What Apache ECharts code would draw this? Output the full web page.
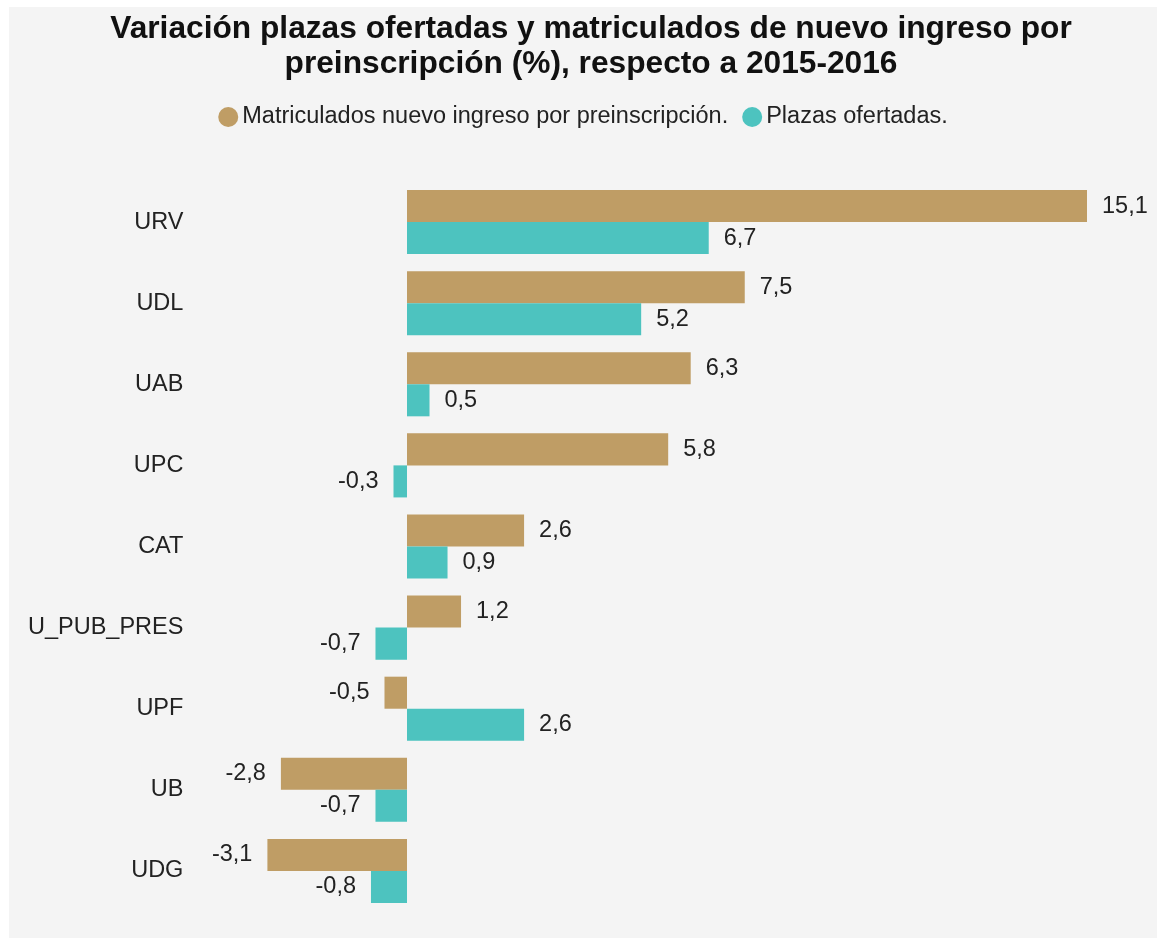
<!DOCTYPE html>
<html>
<head>
<meta charset="utf-8">
<script src="https://cdn.jsdelivr.net/npm/echarts@6/dist/echarts.min.js"></script>
<style>
html,body{margin:0;padding:0;background:#fff;}
#chart{position:absolute;left:9px;top:7px;width:1148px;height:931px;background:#f4f4f4;}
</style>
</head>
<body>
<div id="chart"></div>
<script>
const categories = ["URV","UDL","UAB","UPC","CAT","U_PUB_PRES","UPF","UB","UDG"];
const matriculados = [15.1, 7.5, 6.3, 5.8, 2.6, 1.2, -0.5, -2.8, -3.1];
const plazas = [6.7, 5.2, 0.5, -0.3, 0.9, -0.7, 2.6, -0.7, -0.8];
const seriesNames = ["Matriculados nuevo ingreso por preinscripción.", "Plazas ofertadas."];
const colors = ["#bf9d65", "#4dc3bf"];

const fontFamily = "'Liberation Sans', Arial, sans-serif";
function toData(arr){
  return arr.map(v => ({
    value: v,
    label: { position: v < 0 ? 'left' : 'right' }
  }));
}
const labelCfg = {
  show: true,
  distance: 15,
  fontSize: 23.5,
  color: '#222',
  fontFamily: fontFamily,
  formatter: p => String(p.value).replace('.', ',')
};
const chart = echarts.init(document.getElementById('chart'), null, {renderer:'canvas'});
chart.setOption({
  backgroundColor: '#f4f4f4',
  animation: false,
  title: {
    text: 'Variación plazas ofertadas y matriculados de nuevo ingreso por\npreinscripción (%), respecto a 2015-2016',
    left: 582,
    top: 5,
    padding: 0,
    textAlign: 'center',
    textStyle: { fontSize: 31.7, fontWeight: 'bold', color: '#111', fontFamily: fontFamily, lineHeight: 35 }
  },
  legend: {
    top: 98,
    left: 'center',
    padding: 0,
    icon: 'circle',
    itemWidth: 20,
    itemHeight: 20,
    itemGap: 14,
    textStyle: { fontSize: 23.5, color: '#222', fontFamily: fontFamily, padding: [0,0,0,-1] },
    data: seriesNames
  },
  grid: { left: 258.4, right: 70, top: 174.5, bottom: 26.5, containLabel: false },
  xAxis: { type: 'value', min: -3.1, max: 15.1, show: false },
  yAxis: {
    type: 'category',
    data: categories,
    inverse: true,
    axisLine: { show: false },
    axisTick: { show: false },
    axisLabel: { margin: 84, fontSize: 23.5, color: '#222', fontFamily: fontFamily }
  },
  series: [
    { name: seriesNames[0], type: 'bar', data: toData(matriculados), itemStyle: { color: colors[0] },
      barGap: '0%', barCategoryGap: '21%', label: labelCfg },
    { name: seriesNames[1], type: 'bar', data: toData(plazas), itemStyle: { color: colors[1] },
      barGap: '0%', barCategoryGap: '21%', label: labelCfg }
  ]
});
</script>
</body>
</html>
